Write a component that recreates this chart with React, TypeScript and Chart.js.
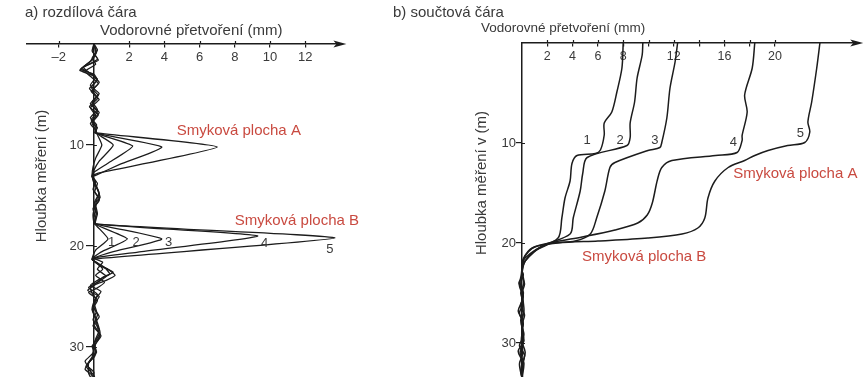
import React, { useEffect, useRef } from "react";
import { Chart, registerables } from "chart.js";

Chart.register(...registerables);

type Pt = [number, number]; // [horizontal deformation (mm), depth (m)]

// ---------- a) difference curves ----------
const diffCurve1: Pt[] = [
  [0, 0], [0.15, 0.8], [-0.1, 1.6], [-0.7, 2.4], [-0.2, 2.9], [0.2, 3.5], [-0.15, 4.3], [0.25, 5.1],
  [-0.2, 5.9], [0.2, 6.7], [-0.15, 7.5], [0.1, 8.2], [0.15, 8.8], [0.45, 10.0], [0.1, 11.3], [-0.05, 12.2],
  [-0.1, 13.1], [0.1, 13.9], [0.3, 14.8], [0.05, 15.6], [0.1, 16.5], [0, 17.2], [0.05, 17.8], [0.8, 19.3],
  [0.1, 20.4], [-0.1, 21.3], [0.4, 22.0], [1.1, 22.6], [0.5, 23.1], [0.2, 23.6], [-0.3, 24.1], [0.2, 24.8],
  [0, 25.6], [0.15, 26.5], [-0.05, 27.3], [0.3, 28.3], [0.1, 29.2], [0, 30.0], [-0.1, 31.0], [-0.4, 31.8],
  [0, 32.5], [-0.1, 33.6],
];
const diffCurve2: Pt[] = [
  [0, 0], [-0.1, 0.7], [0.2, 1.5], [-0.5, 2.2], [-0.8, 2.6], [-0.1, 3.1], [0.3, 3.8], [-0.1, 4.6],
  [0.2, 5.4], [-0.25, 6.2], [0.25, 7.0], [-0.1, 7.8], [0.05, 8.4], [0.1, 8.8], [1.1, 10.0], [0.3, 11.6],
  [0, 12.5], [-0.1, 13.1], [0.15, 14.2], [0.35, 15.2], [0, 15.8], [0.15, 16.7], [0.05, 17.8], [1.9, 19.3],
  [0.4, 20.6], [-0.1, 21.3], [0.6, 22.1], [0.9, 22.8], [0.3, 23.3], [-0.2, 23.9], [0.4, 24.5], [0.05, 25.3],
  [-0.1, 26.2], [0.1, 27.1], [0.35, 28.6], [0, 29.6], [0.15, 30.5], [-0.2, 31.3], [-0.5, 32.2], [0.05, 33.0],
  [0, 33.6],
];
const diffCurve3: Pt[] = [
  [0, 0], [0.1, 0.9], [-0.2, 1.7], [-0.6, 2.3], [-0.3, 2.8], [0.1, 3.3], [-0.2, 4.1], [0.3, 4.9],
  [-0.1, 5.7], [0.2, 6.5], [-0.2, 7.3], [0.15, 8.0], [0.1, 8.8], [2.2, 10.1], [0.8, 11.8], [0, 12.7],
  [-0.1, 13.1], [0.05, 14.0], [0.25, 14.5], [0.3, 15.5], [-0.05, 16.3], [0.1, 17.2], [0.1, 17.8], [3.85, 19.3],
  [1.0, 20.6], [-0.1, 21.3], [0.3, 21.9], [0.8, 22.3], [1.2, 22.9], [0.7, 23.4], [0.1, 23.8], [-0.35, 24.4],
  [0.3, 25.0], [-0.05, 25.9], [0.2, 26.8], [0, 27.8], [0.4, 28.9], [0.05, 29.8], [0.1, 30.7], [-0.3, 31.6],
  [-0.3, 32.6], [0, 33.6],
];
const diffCurve4: Pt[] = [
  [0, 0], [-0.05, 0.8], [0.25, 1.6], [-0.4, 2.1], [-0.75, 2.5], [0, 3.0], [0.2, 3.6], [-0.25, 4.4],
  [0.15, 5.2], [-0.1, 6.0], [0.3, 6.8], [-0.1, 7.6], [0.2, 8.3], [0.05, 8.8], [3.85, 10.2], [1.5, 11.9],
  [0.1, 13.0], [-0.1, 13.1], [0.2, 13.8], [0.05, 14.6], [0.3, 15.3], [0.1, 16.0], [-0.05, 16.9], [0.05, 17.8],
  [9.3, 19.0], [2.5, 20.6], [0, 21.2], [0.5, 21.6], [0.2, 22.3], [0.7, 23.0], [0.3, 23.5], [-0.2, 24.0],
  [-0.1, 24.7], [0.2, 25.4], [-0.1, 26.3], [0.1, 27.2], [0.2, 28.0], [0.3, 29.0], [-0.1, 29.9], [0.05, 30.9],
  [-0.45, 31.9], [0, 32.8], [0.1, 33.6],
];
const diffCurve5: Pt[] = [
  [0, 0], [0.2, 0.6], [-0.1, 1.4], [0.1, 2.0], [-0.5, 2.7], [-0.2, 3.2], [0.25, 3.9], [-0.15, 4.7],
  [0.3, 5.5], [-0.2, 6.3], [0.1, 7.1], [-0.2, 7.9], [0.1, 8.5], [0.15, 8.8], [7.0, 10.2], [0.2, 12.8],
  [-0.1, 13.1], [0.1, 13.6], [-0.05, 14.4], [0.2, 15.1], [0.1, 15.9], [0.2, 16.8], [0.1, 17.8], [13.7, 19.2],
  [-0.1, 21.3], [0.2, 21.7], [0.5, 22.3], [0.1, 22.9], [0.6, 23.6], [0.15, 24.2], [-0.3, 24.6], [0.1, 25.2],
  [0, 26.1], [0.3, 27.0], [-0.05, 27.9], [0.35, 28.8], [0.1, 29.7], [-0.05, 30.6], [-0.5, 31.4], [-0.2, 32.3],
  [0, 33.6],
];

// ---------- b) cumulative (sum) curves ----------
const sumCurve1: Pt[] = [
  [8.0, 0], [7.9, 2.5], [7.5, 4.9], [7.1, 6.9], [6.5, 8.0], [6.5, 9.2], [6.2, 10.7], [5.8, 11.05],
  [4.35, 11.25], [3.95, 12.05], [3.8, 13.8], [3.4, 15.5], [3.15, 17.5], [2.85, 19.5], [1.0, 20.8], [0.25, 21.8],
  [0, 22.8], [0.1, 23.2], [-0.25, 24.0], [0.1, 24.9], [0, 25.8], [-0.3, 26.8], [0.05, 27.8], [0, 28.8],
  [0.15, 29.8], [-0.3, 30.8], [0, 31.8], [-0.1, 32.8], [0, 33.5],
];
const sumCurve2: Pt[] = [
  [9.55, 0], [9.5, 1.2], [9.1, 3.5], [8.9, 5.9], [8.55, 8.0], [8.55, 9.45], [8.3, 10.25], [5.15, 11.45],
  [4.8, 13.05], [4.6, 14.8], [4.05, 17.5], [3.8, 19.1], [1.6, 20.3], [0.25, 21.8], [0.05, 22.6], [0, 23.3],
  [0.2, 24.1], [0, 25.0], [0.1, 25.9], [0.15, 26.9], [-0.1, 27.7], [0.05, 28.7], [-0.05, 29.7], [0.25, 30.9],
  [0.1, 31.9], [0, 33.5],
];
const sumCurve3: Pt[] = [
  [12.3, 0], [12.1, 1.9], [11.7, 4.5], [11.45, 7.5], [11.05, 9.95], [10.9, 10.45], [9.95, 10.75], [7.35, 11.95],
  [6.95, 12.45], [6.55, 14.8], [5.9, 17.5], [5.4, 19.1], [4.2, 19.8], [2.05, 20.1], [0.25, 21.5], [0, 22.6],
  [0, 23.2], [-0.1, 24.2], [0.1, 25.3], [-0.1, 26.3], [0.2, 27.2], [0, 28.2], [0.1, 29.3], [-0.2, 30.3],
  [0.2, 31.2], [0, 32.3], [0.05, 33.5],
];
const sumCurve4: Pt[] = [
  [18.4, 0], [18.2, 2.5], [17.6, 5.2], [17.8, 6.9], [17.4, 9.25], [17.4, 9.75], [17.0, 10.95], [15.3, 11.25],
  [11.85, 11.75], [11.05, 12.45], [10.7, 13.7], [10.3, 16.0], [9.9, 17.2], [9.15, 18.0], [7.35, 18.7], [4.75, 19.4],
  [2.6, 19.9], [0.8, 20.5], [0.1, 21.6], [0, 22.6], [0.15, 24.0], [-0.1, 25.0], [0.1, 26.0], [-0.2, 27.0],
  [0.1, 28.0], [0, 29.0], [0.1, 30.0], [-0.15, 31.0], [0.15, 32.0], [0, 33.5],
];
const sumCurve5: Pt[] = [
  [23.55, 0], [23.3, 2.5], [22.9, 5.9], [22.6, 7.9], [22.75, 8.9], [22.35, 9.95], [21.0, 10.25], [19.45, 10.75],
  [18.4, 11.25], [17.6, 11.75], [16.3, 12.45], [15.25, 13.8], [14.7, 15.5], [14.45, 17.5], [13.9, 18.5], [12.65, 19.1],
  [9.95, 19.5], [6.0, 19.8], [2.85, 20.0], [1.0, 20.4], [0.15, 21.5], [0, 22.5], [-0.05, 23.1], [-0.2, 24.3],
  [0.05, 25.2], [0, 26.2], [0.1, 27.1], [-0.05, 28.1], [0.15, 29.1], [0, 30.1], [0.05, 31.1], [-0.2, 32.1],
  [0, 33.5],
];

const curveLabels = ["1", "2", "3", "4", "5"];
const leftXTicks = [-2, 2, 4, 6, 8, 10, 12];
const rightXTicks = [2, 4, 6, 8, 10, 12, 14, 16, 18, 20];
const rightXTickLabels = ["2", "4", "6", "8", "", "12", "", "16", "", "20"];
const depthTicks = [10, 20, 30];
const depthTickLabels = ["10", "20", "30"];

const FONT = '"Liberation Sans", Arial, Helvetica, sans-serif';
const INK = "#1c1c1c";
const TEXT = "#3a3a3a";
const RED = "#c94a40";

type Note = { text: string; x: number; y: number; color: string; size: number; align: CanvasTextAlign };
type Title = { text: string; px: number; py: number; size: number; rotate?: boolean };

// annotation anchors in data units
const leftNotes: Note[] = [
  { text: "Smyková plocha A", x: 4.7, y: 8.6, color: RED, size: 15, align: "left" },
  { text: "Smyková plocha B", x: 8.0, y: 17.5, color: RED, size: 15, align: "left" },
  { text: "1", x: 1.0, y: 19.6, color: TEXT, size: 13, align: "center" },
  { text: "2", x: 2.4, y: 19.6, color: TEXT, size: 13, align: "center" },
  { text: "3", x: 4.25, y: 19.6, color: TEXT, size: 13, align: "center" },
  { text: "4", x: 9.7, y: 19.7, color: TEXT, size: 13, align: "center" },
  { text: "5", x: 13.4, y: 20.3, color: TEXT, size: 13, align: "center" },
];
const rightNotes: Note[] = [
  { text: "Smyková plocha A", x: 16.7, y: 13.1, color: RED, size: 15, align: "left" },
  { text: "Smyková plocha B", x: 4.75, y: 21.4, color: RED, size: 15, align: "left" },
  { text: "1", x: 5.15, y: 9.7, color: TEXT, size: 13, align: "center" },
  { text: "2", x: 7.75, y: 9.7, color: TEXT, size: 13, align: "center" },
  { text: "3", x: 10.5, y: 9.7, color: TEXT, size: 13, align: "center" },
  { text: "4", x: 16.7, y: 9.9, color: TEXT, size: 13, align: "center" },
  { text: "5", x: 22.0, y: 9.0, color: TEXT, size: 13, align: "center" },
];

const leftTitles: Title[] = [
  { text: "a) rozdílová čára", px: 25, py: 13, size: 15 },
  { text: "Vodorovné přetvoření (mm)", px: 100, py: 31, size: 15 },
  { text: "Hloubka měření (m)", px: 42, py: 176, size: 15, rotate: true },
];
const rightTitles: Title[] = [
  { text: "b) součtová čára", px: 3, py: 13, size: 15 },
  { text: "Vodorovné přetvoření (mm)", px: 91, py: 28, size: 13.5 },
  { text: "Hloubka měření v (m)", px: 92, py: 183, size: 15, rotate: true },
];

function decorPlugin(id: string, notes: Note[], titles: Title[], xTicks: number[], yLabelGap: number, tickSize: number) {
  return {
    id,
    afterDraw(chart: any) {
      const { ctx } = chart;
      const xs = chart.scales.x;
      const ys = chart.scales.y;
      ctx.save();
      const ay = ys.getPixelForValue(0);
      const axX = xs.getPixelForValue(0);
      // small upward / rightward halves of the crossing tick marks
      ctx.strokeStyle = INK;
      ctx.lineWidth = 1.2;
      ctx.beginPath();
      for (const v of xTicks) {
        const px = Math.round(xs.getPixelForValue(v)) + 0.5;
        ctx.moveTo(px, ay - 3);
        ctx.lineTo(px, ay);
      }
      for (const v of depthTicks) {
        const py = Math.round(ys.getPixelForValue(v)) + 0.5;
        ctx.moveTo(axX, py);
        ctx.lineTo(axX + 3, py);
      }
      ctx.stroke();
      // arrow head at the end of the horizontal axis
      const ax = xs.right;
      ctx.fillStyle = INK;
      ctx.beginPath();
      ctx.moveTo(ax + 6, ay);
      ctx.lineTo(ax - 7, ay - 3.5);
      ctx.lineTo(ax - 4, ay);
      ctx.lineTo(ax - 7, ay + 3.5);
      ctx.closePath();
      ctx.fill();
      ctx.textBaseline = "middle";
      // depth tick labels
      ctx.font = `${tickSize}px ${FONT}`;
      ctx.fillStyle = TEXT;
      ctx.textAlign = "right";
      depthTicks.forEach((v, i) => {
        ctx.fillText(depthTickLabels[i], axX - yLabelGap, ys.getPixelForValue(v));
      });
      for (const n of notes) {
        ctx.font = `${n.size}px ${FONT}`;
        ctx.fillStyle = n.color;
        ctx.textAlign = n.align;
        ctx.fillText(n.text, xs.getPixelForValue(n.x), ys.getPixelForValue(n.y));
      }
      ctx.fillStyle = TEXT;
      for (const t of titles) {
        ctx.font = `${t.size}px ${FONT}`;
        if (t.rotate) {
          ctx.save();
          ctx.translate(t.px, t.py);
          ctx.rotate(-Math.PI / 2);
          ctx.textAlign = "center";
          ctx.fillText(t.text, 0, 0);
          ctx.restore();
        } else {
          ctx.textAlign = "left";
          ctx.fillText(t.text, t.px, t.py);
        }
      }
      ctx.restore();
    },
  };
}

function datasets(curves: Pt[][], tension: number, width: number) {
  return curves.map((c, i) => ({
    label: curveLabels[i],
    data: c.map(([x, y]) => ({ x, y })),
    showLine: true,
    borderColor: INK,
    borderWidth: width,
    pointRadius: 0,
    tension,
    clip: false as any,
    fill: false,
  }));
}

function zeroPad(s: any) {
  s.paddingLeft = 0;
  s.paddingRight = 0;
  s.paddingTop = 0;
  s.paddingBottom = 0;
}

function options(p: {
  xMin: number; xMax: number; yMax: number; xTicks: number[]; xFmt: (v: number, i: number) => string;
  pad: { left: number; right: number; top: number; bottom: number };
  tickSize: number; yTickLen: number;
}) {
  return {
    responsive: false,
    animation: false as const,
    devicePixelRatio: 1,
    events: [] as any[],
    layout: { padding: p.pad },
    plugins: { legend: { display: false }, tooltip: { enabled: false } },
    scales: {
      x: {
        type: "linear" as const,
        position: { y: 0 },
        min: p.xMin,
        max: p.xMax,
        afterBuildTicks: (s: any) => { s.ticks = p.xTicks.map((v) => ({ value: v })); },
        afterFit: zeroPad,
        grid: { drawOnChartArea: false, drawTicks: true, tickLength: 3, color: INK, lineWidth: 1.2 },
        border: { display: true, color: INK, width: 1.5 },
        ticks: {
          font: { family: FONT, size: p.tickSize }, color: TEXT, padding: 3, maxRotation: 0, autoSkip: false,
          callback: (v: any, i: number) => p.xFmt(Number(v), i),
        },
      },
      y: {
        type: "linear" as const,
        reverse: true,
        position: { x: 0 },
        min: 0,
        max: p.yMax,
        afterBuildTicks: (s: any) => { s.ticks = depthTicks.map((v) => ({ value: v })); },
        afterFit: zeroPad,
        grid: { drawOnChartArea: false, drawTicks: true, tickLength: p.yTickLen, color: INK, lineWidth: 1.2 },
        border: { display: true, color: INK, width: 1.5 },
        ticks: { display: false },
      },
    },
  };
}

export default function App() {
  const leftRef = useRef<HTMLCanvasElement>(null);
  const rightRef = useRef<HTMLCanvasElement>(null);

  useEffect(() => {
    const left = new Chart(leftRef.current!, {
      type: "scatter",
      data: { datasets: datasets([diffCurve1, diffCurve2, diffCurve3, diffCurve4, diffCurve5], 0.15, 1.3) as any },
      options: options({
        xMin: -3.8, xMax: 14, yMax: 32.97, xTicks: leftXTicks,
        xFmt: (v) => (v < 0 ? "–" + Math.abs(v) : String(v)),
        pad: { left: 27, right: 390 - 340.4, top: 44, bottom: 0 },
        tickSize: 13, yTickLen: 7,
      }) as any,
      plugins: [decorPlugin("decorLeft", leftNotes, leftTitles, leftXTicks, 10, 13)],
    });
    const right = new Chart(rightRef.current!, {
      type: "scatter",
      data: { datasets: datasets([sumCurve1, sumCurve2, sumCurve3, sumCurve4, sumCurve5], 0.3, 1.5) as any },
      options: options({
        xMin: 0, xMax: 26.5, yMax: 33.4, xTicks: rightXTicks,
        xFmt: (_v, i) => rightXTickLabels[i],
        pad: { left: 132, right: 476 - (132 + 26.5 * 12.65), top: 43, bottom: 0 },
        tickSize: 12.5, yTickLen: 5,
      }) as any,
      plugins: [decorPlugin("decorRight", rightNotes, rightTitles, rightXTicks, 6, 13)],
    });
    return () => {
      left.destroy();
      right.destroy();
    };
  }, []);

  return (
    <div style={{ position: "absolute", left: 0, top: 0, width: 866, height: 377, background: "#fff" }}>
      <canvas ref={leftRef} width={390} height={377}
        style={{ position: "absolute", left: 0, top: 0, width: 390, height: 377 }} />
      <canvas ref={rightRef} width={476} height={377}
        style={{ position: "absolute", left: 390, top: 0, width: 476, height: 377 }} />
    </div>
  );
}
